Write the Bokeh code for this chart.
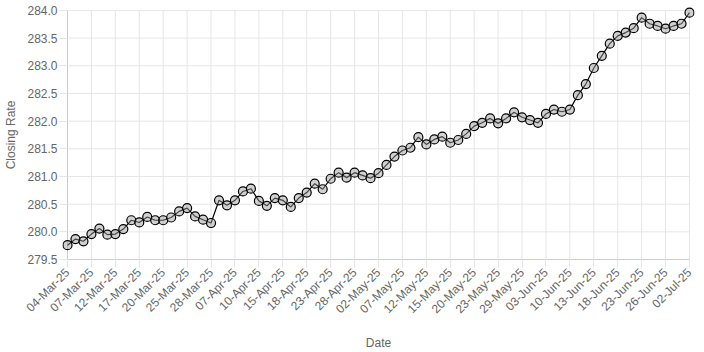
import numpy as np
from bokeh.plotting import figure
from bokeh.models import Range1d, FixedTicker, PrintfTickFormatter
from bokeh.embed import file_html
from bokeh.resources import INLINE

dates = [
    "04-Mar-25", "05-Mar-25", "06-Mar-25", "07-Mar-25", "10-Mar-25", "11-Mar-25",
    "12-Mar-25", "13-Mar-25", "14-Mar-25", "17-Mar-25", "18-Mar-25", "19-Mar-25",
    "20-Mar-25", "21-Mar-25", "24-Mar-25", "25-Mar-25", "26-Mar-25", "27-Mar-25",
    "28-Mar-25", "03-Apr-25", "04-Apr-25", "07-Apr-25", "08-Apr-25", "09-Apr-25",
    "10-Apr-25", "11-Apr-25", "14-Apr-25", "15-Apr-25", "16-Apr-25", "17-Apr-25",
    "18-Apr-25", "21-Apr-25", "22-Apr-25", "23-Apr-25", "24-Apr-25", "25-Apr-25",
    "28-Apr-25", "29-Apr-25", "30-Apr-25", "02-May-25", "05-May-25", "06-May-25",
    "07-May-25", "08-May-25", "09-May-25", "12-May-25", "13-May-25", "14-May-25",
    "15-May-25", "16-May-25", "19-May-25", "20-May-25", "21-May-25", "22-May-25",
    "23-May-25", "26-May-25", "27-May-25", "29-May-25", "30-May-25", "02-Jun-25",
    "03-Jun-25", "04-Jun-25", "05-Jun-25", "10-Jun-25", "11-Jun-25", "12-Jun-25",
    "13-Jun-25", "16-Jun-25", "17-Jun-25", "18-Jun-25", "19-Jun-25", "20-Jun-25",
    "23-Jun-25", "24-Jun-25", "25-Jun-25", "26-Jun-25", "27-Jun-25", "30-Jun-25",
    "02-Jul-25",
]

closing_rate = [
    279.76, 279.87, 279.83, 279.96, 280.06, 279.95,
    279.96, 280.05, 280.21, 280.17, 280.27, 280.21,
    280.21, 280.26, 280.37, 280.43, 280.28, 280.22,
    280.16, 280.57, 280.48, 280.57, 280.73, 280.78,
    280.56, 280.47, 280.61, 280.57, 280.45, 280.61,
    280.71, 280.87, 280.77, 280.96, 281.07, 280.98,
    281.07, 281.02, 280.97, 281.06, 281.21, 281.36,
    281.47, 281.52, 281.71, 281.58, 281.67, 281.72,
    281.61, 281.66, 281.77, 281.91, 281.97, 282.05,
    281.96, 282.05, 282.16, 282.07, 282.02, 281.97,
    282.13, 282.21, 282.17, 282.21, 282.47, 282.67,
    282.96, 283.18, 283.40, 283.54, 283.60, 283.68,
    283.87, 283.76, 283.72, 283.67, 283.72, 283.76,
    283.96,
]

y_ticks = [279.5, 280.0, 280.5, 281.0, 281.5, 282.0, 282.5, 283.0, 283.5, 284.0]
label_step = 3

x = list(np.arange(len(dates)))
x_ticks = list(range(0, len(dates), label_step))
x_min, x_max = 0, len(dates) - 1
y_min, y_max = y_ticks[0], y_ticks[-1]

FONT = "Liberation Sans"
GRID = "#e6e6e6"
EDGE = "#cccccc"
TXT = "#666666"

# inner chart area (where axes meet) is 622 x 252 px; frame is padded by PAD px
# so that markers at the edges are not clipped
PAD = 5
inner_w, inner_h = 622, 252
xpad = PAD * (x_max - x_min) / inner_w
ypad = PAD * (y_max - y_min) / inner_h

p = figure(width=704, height=352, output_backend="svg", toolbar_location=None,
           x_range=Range1d(x_min - xpad, x_max + xpad),
           y_range=Range1d(y_min - ypad, y_max + ypad),
           min_border_left=62, min_border_right=10, min_border_top=5, min_border_bottom=85)
p.outline_line_color = None
p.background_fill_color = "white"
p.border_fill_color = "white"
p.xgrid.visible = False
p.ygrid.visible = False

# grid lines, bounded to the inner chart area
gx = [t for t in x_ticks if t != x_min]
gy = [t for t in y_ticks if t != y_min]
p.segment(x0=gx, y0=[y_min] * len(gx), x1=gx, y1=[y_max] * len(gx),
          line_color=GRID, line_width=1, level="underlay")
p.segment(x0=[x_min] * len(gy), y0=gy, x1=[x_max] * len(gy), y1=gy,
          line_color=GRID, line_width=1, level="underlay")
# axis border lines
p.segment(x0=[x_min, x_min], y0=[y_min, y_min], x1=[x_min, x_max], y1=[y_max, y_min],
          line_color=EDGE, line_width=1, level="underlay")

p.line(x, closing_rate, line_color="black", line_width=1.2)
p.scatter(x, closing_rate, size=9, marker="circle", fill_color="#999999", fill_alpha=0.45,
          line_color="black", line_width=1.2)

xa = p.xaxis[0]
xa.ticker = FixedTicker(ticks=x_ticks)
xa.major_label_overrides = {i: dates[i] for i in x_ticks}
xa.major_label_orientation = np.pi / 4
xa.axis_label = "Date"

ya = p.yaxis[0]
ya.ticker = FixedTicker(ticks=y_ticks)
ya.formatter = PrintfTickFormatter(format="%.1f")
ya.axis_label = "Closing Rate"

for ax in (xa, ya):
    ax.minor_tick_line_color = None
    ax.major_tick_in = PAD
    ax.major_tick_out = 3
    ax.major_tick_line_color = GRID
    ax.axis_line_color = None
    ax.major_label_text_font = FONT
    ax.major_label_text_font_size = "12px"
    ax.major_label_text_color = TXT
    ax.axis_label_text_font = FONT
    ax.axis_label_text_font_size = "12px"
    ax.axis_label_text_font_style = "normal"
    ax.axis_label_text_color = TXT
ya.major_label_standoff = 2
xa.major_label_standoff = 3
ya.axis_label_standoff = 6
xa.axis_label_standoff = 12

open("out.html", "w").write(file_html(p, INLINE))
